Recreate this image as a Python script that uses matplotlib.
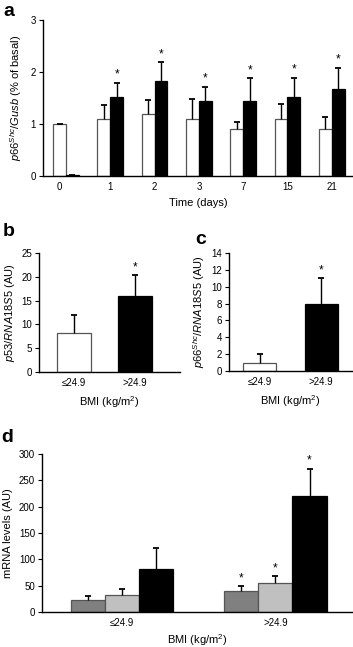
import matplotlib
matplotlib.use("Agg")
import matplotlib.pyplot as plt
import numpy as np

plt.rcParams['font.family'] = ['Liberation Sans', 'DejaVu Sans']
plt.rcParams['mathtext.fontset'] = 'custom'
plt.rcParams['mathtext.rm'] = 'Liberation Sans'
plt.rcParams['mathtext.it'] = 'Liberation Sans:italic'
plt.rcParams['mathtext.bf'] = 'Liberation Sans:bold'

# ---- data ----
days = ['0', '1', '2', '3', '7', '15', '21']
a_white = [1.0, 1.10, 1.20, 1.10, 0.90, 1.10, 0.90]
a_white_err = [0.0, 0.27, 0.26, 0.39, 0.14, 0.28, 0.23]
a_black = [0.01, 1.52, 1.82, 1.45, 1.45, 1.52, 1.67]
a_black_err = [0.0, 0.27, 0.37, 0.27, 0.43, 0.37, 0.41]
a_sig = [False, True, True, True, True, True, True]

bmi_cats = ['≤24.9', '>24.9']
b_vals = [8.2, 15.9]
b_err = [3.7, 4.4]
b_sig = [False, True]

c_vals = [1.0, 8.0]
c_err = [1.0, 3.0]
c_sig = [False, True]

d_dark = [22, 39]
d_dark_err = [8, 10]
d_light = [32, 56]
d_light_err = [12, 12]
d_black = [82, 221]
d_black_err = [39, 51]
d_sig = [False, True]

W, H = 353, 647
fig = plt.figure(figsize=(W / 100, H / 100), dpi=100)

TICK_FS = 7
LAB_FS = 8
EDGE = '#555555'


def rect(l, t, r, b):
    return [l / W, 1 - b / H, (r - l) / W, (b - t) / H]


def style(ax):
    for s in ['top', 'right']:
        ax.spines[s].set_visible(False)
    for s in ['left', 'bottom']:
        ax.spines[s].set_linewidth(1.0)
    ax.tick_params(axis='y', direction='out', length=3, width=0.8, labelsize=TICK_FS, pad=2)
    ax.tick_params(axis='x', length=0, labelsize=TICK_FS, pad=4)


def bars(ax, x, vals, errs, width, color, sig=None, edge=EDGE):
    ax.bar(x, vals, width, color=color, edgecolor=edge, linewidth=0.9, zorder=2)
    eb = ax.errorbar(x, vals, yerr=[np.zeros(len(vals)), errs], fmt='none', ecolor='black',
                     elinewidth=1.0, capsize=2.5, capthick=1.3, zorder=3)
    caps = eb.lines[1]
    if len(caps) == 2:
        caps[0].set_visible(False)
    if sig is not None:
        for xi, v, e, s in zip(x, vals, errs, sig):
            if s:
                ax.annotate('*', (xi, v + e), xytext=(0, 1.5), textcoords='offset points',
                            ha='center', va='bottom', fontsize=8.5)


# ---- panel a ----
ax = fig.add_axes(rect(43, 20, 353, 176))
style(ax)
x = np.arange(len(days))
w = 0.29
bars(ax, x - w / 2, a_white, a_white_err, w, 'white')
bars(ax, x + w / 2, a_black, a_black_err, w, 'black', sig=a_sig, edge='black')
ax.set_xlim(-0.52, 6.48)
ax.set_ylim(0, 3)
ax.set_yticks([0, 1, 2, 3])
ticks = x.astype(float).copy()
ticks[0] = -w / 2
ax.set_xticks(ticks)
ax.set_xticklabels(days)
ax.set_xlabel('Time (days)', fontsize=LAB_FS, labelpad=5)
ax.set_ylabel(r'$\mathit{p66}^{\mathit{Shc}}/\mathit{Gusb}$ (% of basal)', fontsize=LAB_FS, labelpad=5)
fig.text(3 / W, 1 - 12 / H, 'a', fontsize=14, fontweight='bold', va='center', ha='left')

# ---- panel b ----
ax = fig.add_axes(rect(39, 253, 180, 372))
style(ax)
x = np.arange(2)
bars(ax, [0], b_vals[:1], b_err[:1], 0.56, 'white')
bars(ax, [1], b_vals[1:], b_err[1:], 0.56, 'black', sig=b_sig[1:], edge='black')
ax.set_xlim(-0.57, 1.74)
ax.set_ylim(0, 25)
ax.set_yticks([0, 5, 10, 15, 20, 25])
ax.set_xticks(x)
ax.set_xticklabels(bmi_cats)
ax.set_xlabel(r'BMI (kg/m$^2$)', fontsize=LAB_FS, labelpad=5)
ax.set_ylabel(r'$\mathit{p53/RNA18S5}$ (AU)', fontsize=LAB_FS, labelpad=3)
fig.text(3 / W, 1 - 232 / H, 'b', fontsize=14, fontweight='bold', va='center', ha='left')

# ---- panel c ----
ax = fig.add_axes(rect(229, 253, 352, 371))
style(ax)
bars(ax, [0], c_vals[:1], c_err[:1], 0.54, 'white')
bars(ax, [1], c_vals[1:], c_err[1:], 0.54, 'black', sig=c_sig[1:], edge='black')
ax.set_xlim(-0.5, 1.5)
ax.set_ylim(0, 14)
ax.set_yticks(np.arange(0, 15, 2))
ax.set_xticks(x)
ax.set_xticklabels(bmi_cats)
ax.set_xlabel(r'BMI (kg/m$^2$)', fontsize=LAB_FS, labelpad=5)
ax.set_ylabel(r'$\mathit{p66}^{\mathit{Shc}}/\mathit{RNA18S5}$ (AU)', fontsize=LAB_FS, labelpad=3)
fig.text(195 / W, 1 - 240 / H, 'c', fontsize=14, fontweight='bold', va='center', ha='left')

# ---- panel d ----
ax = fig.add_axes(rect(42, 454, 353, 612))
style(ax)
bw = 0.222
bars(ax, x - bw, d_dark, d_dark_err, bw, '#808080', sig=d_sig)
bars(ax, x, d_light, d_light_err, bw, '#c0c0c0', sig=d_sig)
bars(ax, x + bw, d_black, d_black_err, bw, 'black', sig=d_sig, edge='black')
ax.set_xlim(-0.52, 1.505)
ax.set_ylim(0, 300)
ax.set_yticks(np.arange(0, 301, 50))
ax.set_xticks(x)
ax.set_xticklabels(bmi_cats)
ax.set_xlabel(r'BMI (kg/m$^2$)', fontsize=LAB_FS, labelpad=3)
ax.set_ylabel('mRNA levels (AU)', fontsize=LAB_FS, labelpad=4)
fig.text(1 / W, 1 - 438 / H, 'd', fontsize=14, fontweight='bold', va='center', ha='left')

fig.savefig('out.png', dpi=100)
